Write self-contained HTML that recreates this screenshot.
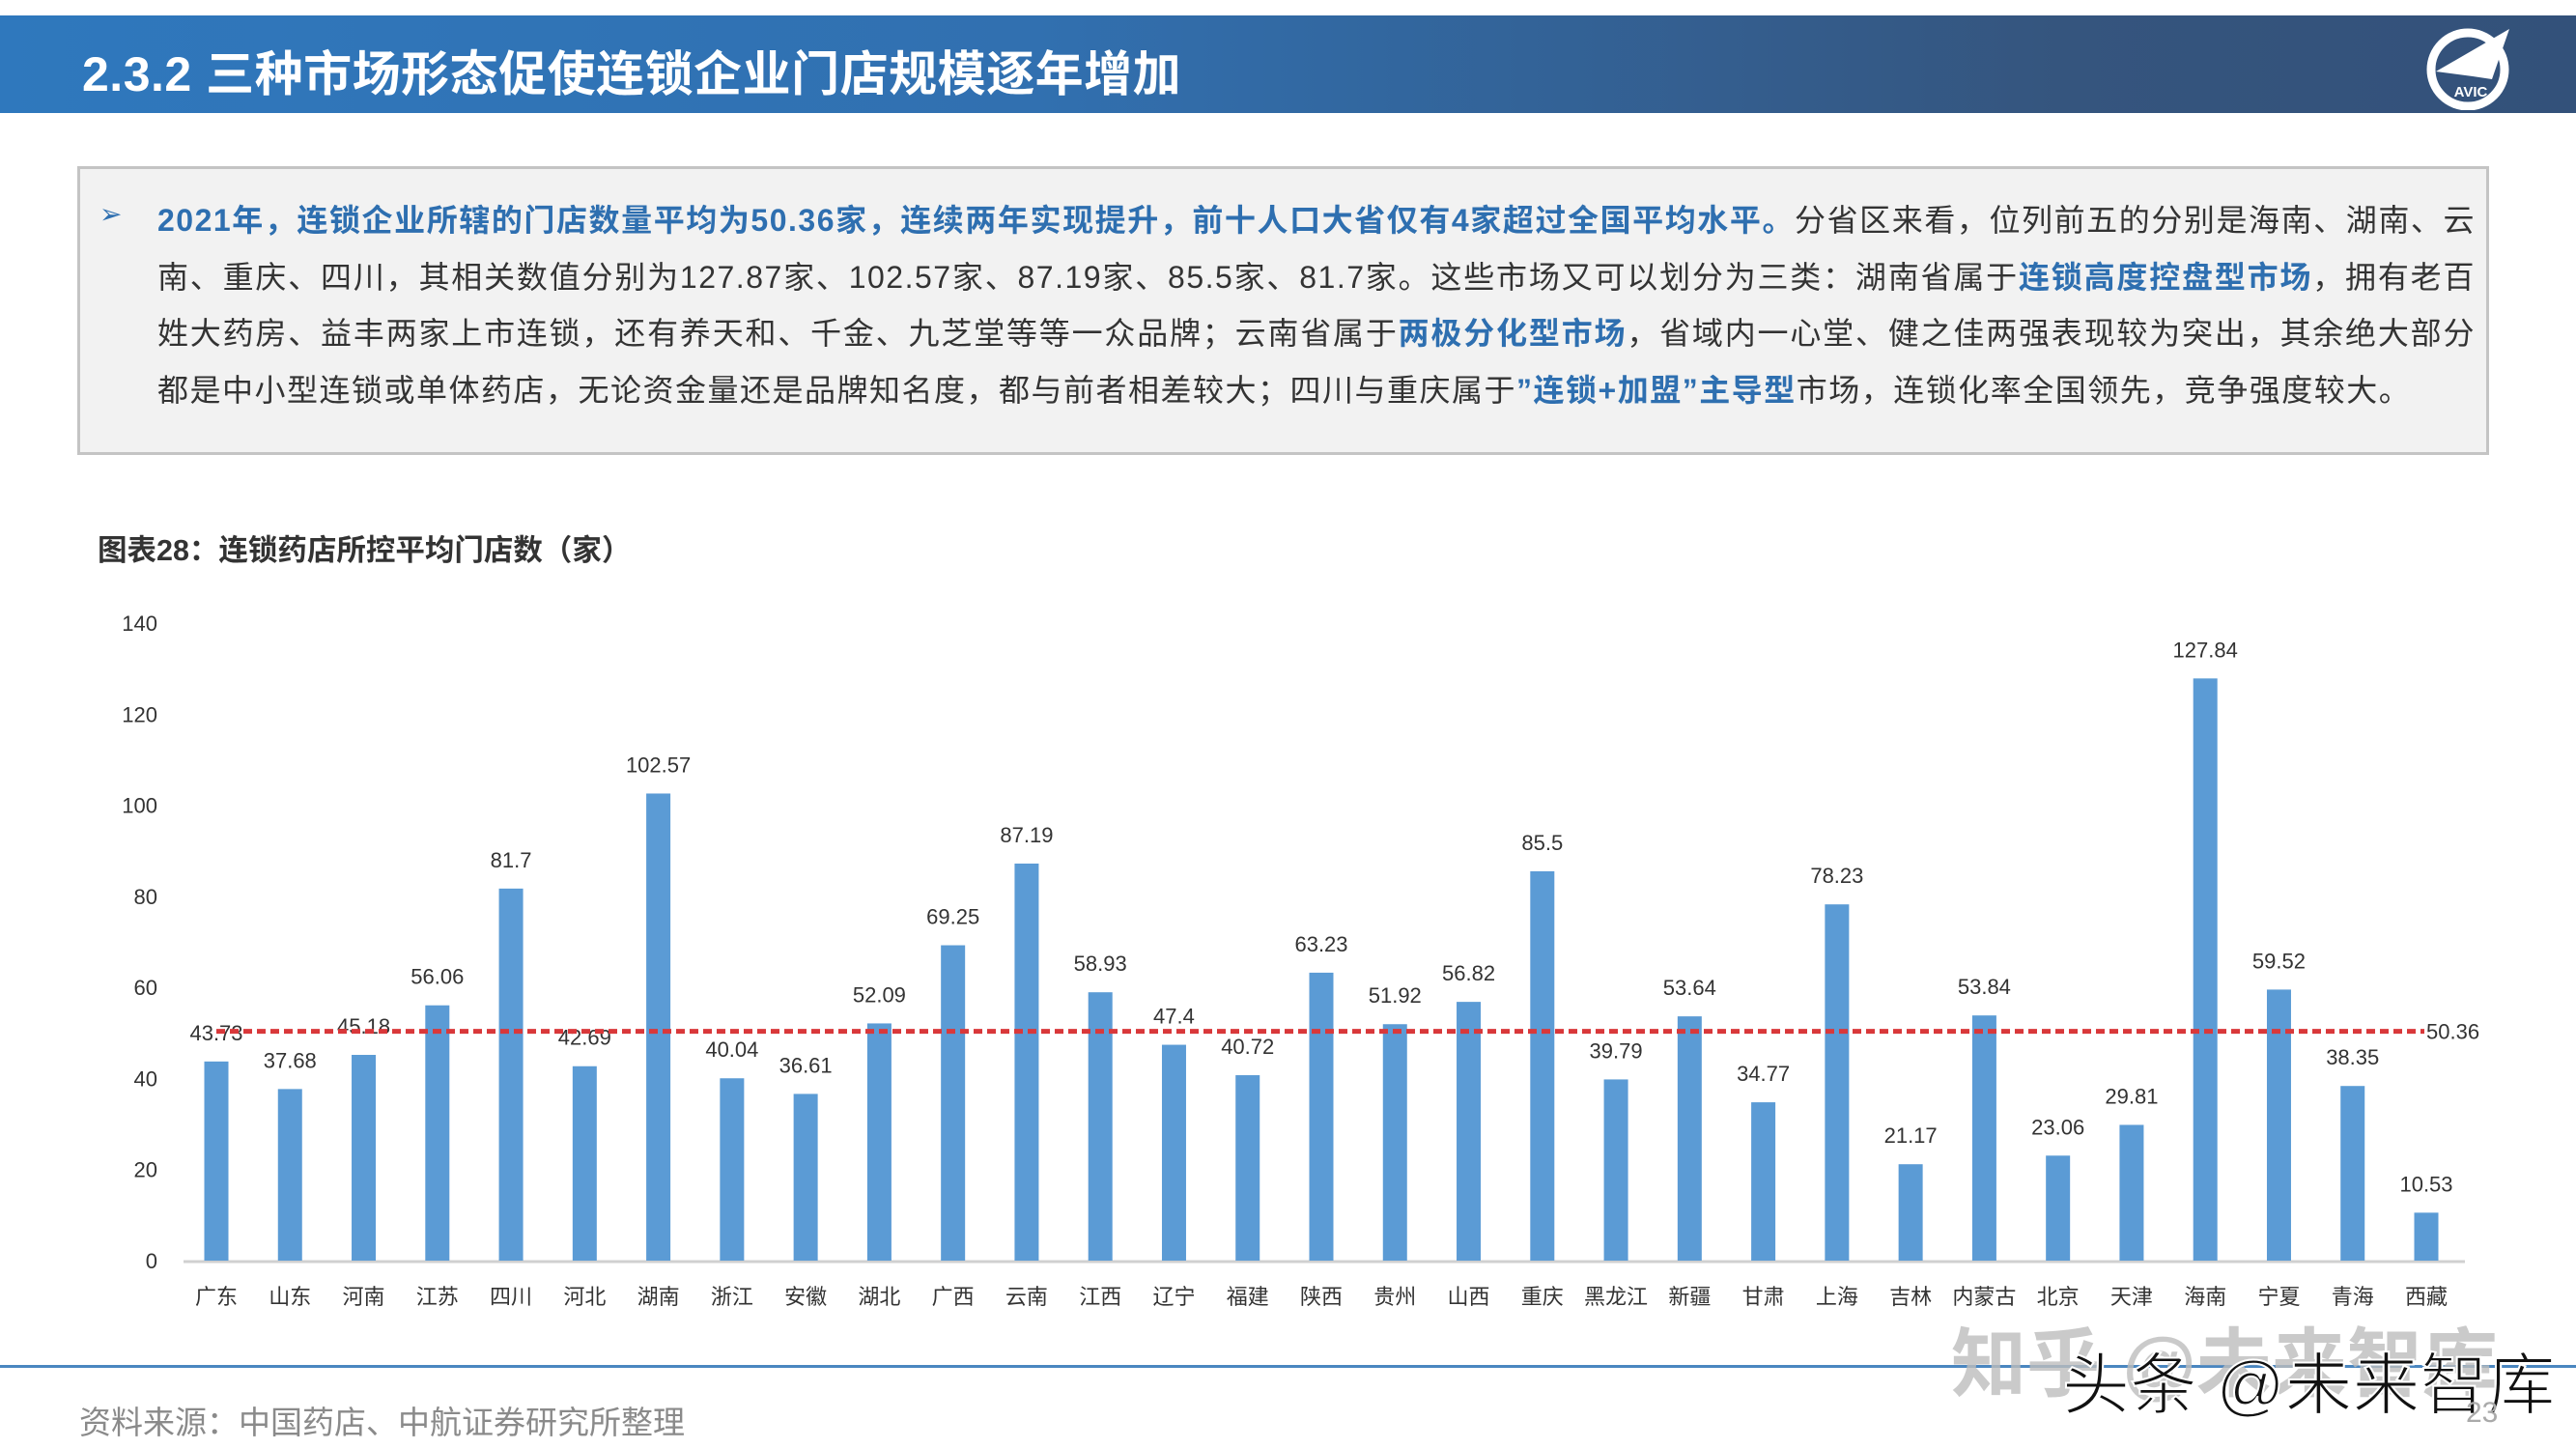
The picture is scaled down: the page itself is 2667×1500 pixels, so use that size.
<!DOCTYPE html>
<html><head><meta charset="utf-8">
<style>
html,body{margin:0;padding:0;}
body{width:2667px;height:1500px;position:relative;overflow:hidden;background:#fff;font-family:"Liberation Sans","Noto Sans CJK SC",sans-serif;}
.hdr{position:absolute;left:0;top:16px;width:2667px;height:101px;background:linear-gradient(90deg,#2f78bd 0%,#3170b0 40%,#35557e 80%,#33517a 100%);}
.hdr h1{position:absolute;left:85px;top:21px;margin:0;color:#fff;font-size:50px;font-weight:bold;letter-spacing:0.5px;}
.box{position:absolute;left:80px;top:172px;width:2491px;height:293px;background:#f2f2f2;border:3px solid #c4c4c4;}
.box p{position:absolute;left:80px;top:24px;width:2400px;margin:0;font-size:32px;letter-spacing:1.5px;line-height:58.5px;color:#333;text-align:justify;}
.b{color:#2e6fb0;font-weight:bold;}
.arrow{position:absolute;left:20px;top:30px;color:#2e6fb0;font-size:28px;}
.ctitle{position:absolute;left:101px;top:545px;font-size:30.5px;font-weight:bold;color:#333;}
.foot{position:absolute;left:0;top:1413px;width:2667px;height:3px;background:#4a86c0;}
.src{position:absolute;left:82px;top:1446px;font-size:33px;color:#8a8a8a;}
.pg{position:absolute;left:2553px;top:1446px;font-size:30px;color:#aaa;}
.wm1{position:absolute;left:2020px;top:1350px;font-size:78px;color:#bdbdbd;font-weight:bold;opacity:0.8;}
.wm2{position:absolute;left:2135px;top:1378px;font-size:70px;color:#111;-webkit-text-stroke:2px #fff;}
</style></head>
<body>
<div class="hdr">
<h1>2.3.2 三种市场形态促使连锁企业门店规模逐年增加</h1>
<svg style="position:absolute;left:2510px;top:8px" width="95" height="90" viewBox="0 0 95 90">
<circle cx="45" cy="48" r="38" fill="none" stroke="#fff" stroke-width="9"/>
<polygon points="88,6 12,50 50,55 70,58" fill="#fff"/>
<text x="48" y="76" font-size="15" font-weight="bold" fill="#fff" text-anchor="middle" font-family="Liberation Sans,sans-serif">AVIC</text>
</svg>
</div>
<div class="box">
<span class="arrow">➢</span>
<p><span class="b">2021年，连锁企业所辖的门店数量平均为50.36家，连续两年实现提升，前十人口大省仅有4家超过全国平均水平。</span>分省区来看，位列前五的分别是海南、湖南、云南、重庆、四川，其相关数值分别为127.87家、102.57家、87.19家、85.5家、81.7家。这些市场又可以划分为三类：湖南省属于<span class="b">连锁高度控盘型市场</span>，拥有老百姓大药房、益丰两家上市连锁，还有养天和、千金、九芝堂等等一众品牌；云南省属于<span class="b">两极分化型市场</span>，省域内一心堂、健之佳两强表现较为突出，其余绝大部分都是中小型连锁或单体药店，无论资金量还是品牌知名度，都与前者相差较大；四川与重庆属于<span class="b">”连锁+加盟”主导型</span>市场，连锁化率全国领先，竞争强度较大。</p>
</div>
<div class="ctitle">图表28：连锁药店所控平均门店数（家）</div>
<svg id="chart" style="position:absolute;left:0;top:0" width="2667" height="1400"></svg>
<div class="foot"></div>
<div class="src">资料来源：中国药店、中航证券研究所整理</div>
<div class="wm1">知乎 @未来智库</div>
<div class="wm2">头条 @未来智库</div>
<div class="pg">23</div>
<script>
const categories=["广东","山东","河南","江苏","四川","河北","湖南","浙江","安徽","湖北","广西","云南","江西","辽宁","福建","陕西","贵州","山西","重庆","黑龙江","新疆","甘肃","上海","吉林","内蒙古","北京","天津","海南","宁夏","青海","西藏"];
const values=[43.73,37.68,45.18,56.06,81.7,42.69,102.57,40.04,36.61,52.09,69.25,87.19,58.93,47.4,40.72,63.23,51.92,56.82,85.5,39.79,53.64,34.77,78.23,21.17,53.84,23.06,29.81,127.84,59.52,38.35,10.53];
const average=50.36;
const yTicks=[0,20,40,60,80,100,120,140];
const NS="http://www.w3.org/2000/svg";
const svg=document.getElementById('chart');
const y0=1305,yScale=(1305-645)/140;
function y(v){return y0-v*yScale;}
const x0=224,step=(2512-224)/30;
function x(i){return x0+i*step;}
function mk(tag,attrs,txt){const e=document.createElementNS(NS,tag);for(const k in attrs)e.setAttribute(k,attrs[k]);if(txt!==undefined)e.textContent=txt;svg.appendChild(e);return e;}
yTicks.forEach(t=>{
 const e=mk('text',{x:163,y:y(t)+8,'text-anchor':'end','font-size':22,fill:'#333','font-family':'Liberation Sans,sans-serif'},t);
 
 
});
const ax=mk('line',{x1:190,x2:2552,y1:y0+1,y2:y0+1,stroke:'#d0d0d0','stroke-width':3});


values.forEach((v,i)=>{
 const r=mk('rect',{x:x(i)-12.5,y:y(v),width:25,height:v*yScale,fill:'#5b9bd5'});
 
 
 const l=mk('text',{x:x(i),y:y(v)-22,'text-anchor':'middle','font-size':22,fill:'#333','font-family':'Liberation Sans,sans-serif'},String(v));
 
 
 const c=mk('text',{x:x(i),y:1350,'text-anchor':'middle','font-size':22,fill:'#333','font-family':'Liberation Sans,Noto Sans CJK SC,sans-serif'},categories[i]);
 
 
});
const av=mk('line',{x1:x(0),x2:2510,y1:y(average),y2:y(average),stroke:'#d9383a','stroke-width':5,'stroke-dasharray':'9,5'});


const avl=mk('text',{x:2512,y:y(average)+8,'font-size':22,fill:'#333','font-family':'Liberation Sans,sans-serif'},String(average));


</script>
</body></html>
